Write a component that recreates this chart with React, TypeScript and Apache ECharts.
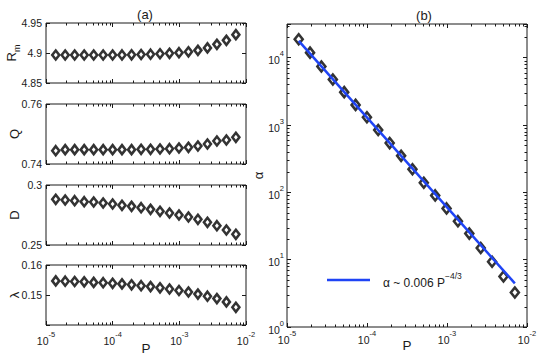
import React, { useEffect, useRef } from "react";
import * as echarts from "echarts";

// ---- data ----
const P = [1.40e-5, 1.94e-5, 2.69e-5, 3.74e-5, 5.19e-5, 7.20e-5, 9.98e-5, 1.38e-4, 1.92e-4, 2.67e-4,
  3.70e-4, 5.13e-4, 7.12e-4, 9.88e-4, 1.37e-3, 1.90e-3, 2.64e-3, 3.66e-3, 5.08e-3, 7.05e-3];
const Rm = [4.8967, 4.8967, 4.8967, 4.8967, 4.8967, 4.8967, 4.8967, 4.8968, 4.8970, 4.8975,
  4.8980, 4.8987, 4.8995, 4.9005, 4.9020, 4.9044, 4.9085, 4.9144, 4.9211, 4.9306];
const Q = [0.74444, 0.74478, 0.74478, 0.74478, 0.74478, 0.74478, 0.74478, 0.74478, 0.74478, 0.74489,
  0.74489, 0.745, 0.74511, 0.74533, 0.74556, 0.746, 0.74667, 0.74767, 0.748, 0.74889];
const D = [0.28806, 0.2875, 0.28694, 0.28611, 0.28583, 0.285, 0.28417, 0.28306, 0.28222, 0.28111,
  0.27972, 0.27806, 0.27667, 0.275, 0.27333, 0.27139, 0.26889, 0.26611, 0.2625, 0.25889];
const lambda = [0.1547, 0.1546, 0.1545, 0.1544, 0.1542, 0.1541, 0.1539, 0.1537, 0.1534, 0.1531,
  0.1528, 0.1524, 0.1520, 0.1515, 0.1510, 0.1503, 0.1496, 0.1488, 0.1477, 0.1459];
const alpha = [18750, 11880, 7410, 4740, 3075, 1990, 1303, 842, 539, 348,
  220, 139, 90, 57.7, 37.3, 24.4, 14.9, 9.33, 5.63, 3.25];
const fitP = [1.4e-5, 7.05e-3];
const fitAlpha = [17800, 4.44];
const fitName = "α ~ 0.006 P^-4/3";

const xMinorTicks = [2e-5, 3e-5, 4e-5, 5e-5, 6e-5, 7e-5, 8e-5, 9e-5,
  2e-4, 3e-4, 4e-4, 5e-4, 6e-4, 7e-4, 8e-4, 9e-4,
  2e-3, 3e-3, 4e-3, 5e-3, 6e-3, 7e-3, 8e-3, 9e-3];
const yMinorTicksAlpha = [2, 3, 4, 5, 6, 7, 8, 9, 20, 30, 40, 50, 60, 70, 80, 90,
  200, 300, 400, 500, 600, 700, 800, 900, 2000, 3000, 4000, 5000, 6000, 7000, 8000, 9000, 20000, 30000];

const leftPanels = [
  { name: "{r|R}{m|m}", values: Rm, min: 4.85, max: 4.95, interval: 0.05, hideMin: false },
  { name: "Q", values: Q, min: 0.74, max: 0.76, interval: 0.02, hideMin: false },
  { name: "D", values: D, min: 0.25, max: 0.3, interval: 0.05, hideMin: false },
  { name: "λ", values: lambda, min: 0.14, max: 0.16, interval: 0.01, hideMin: true },
];
const leftTops = [23, 104, 185, 265];

const FONT = "'Liberation Sans', Arial, Helvetica, sans-serif";
const TXT = "#1a1a1a";
const BLUE = "#1f44f5";

const supRich = {
  b: { fontSize: 10.5, fontFamily: FONT, color: TXT, lineHeight: 16, verticalAlign: "bottom" },
  s: { fontSize: 7.5, fontFamily: FONT, color: TXT, lineHeight: 8, verticalAlign: "top" },
};

function pow10Label(v: number) {
  const l = Math.log10(v);
  const e = Math.round(l);
  if (Math.abs(l - e) > 1e-6) return "";
  return `{b|10}{s|${e}}`;
}

function tickRender(params: any, api: any) {
  const cs = params.coordSys;
  const kind = api.value(2);
  const pt = api.coord([api.value(0), api.value(1)]);
  const L = 2.5;
  const st = { stroke: TXT, lineWidth: 1 };
  if (kind === 0) {
    const x = Math.round(pt[0]) + 0.5;
    return {
      type: "group",
      children: [
        { type: "line", shape: { x1: x, y1: cs.y + cs.height, x2: x, y2: cs.y + cs.height - L }, style: st },
        { type: "line", shape: { x1: x, y1: cs.y, x2: x, y2: cs.y + L }, style: st },
      ],
    };
  }
  const y = Math.round(pt[1]) + 0.5;
  return {
    type: "group",
    children: [
      { type: "line", shape: { x1: cs.x, y1: y, x2: cs.x + L, y2: y }, style: st },
      { type: "line", shape: { x1: cs.x + cs.width, y1: y, x2: cs.x + cs.width - L, y2: y }, style: st },
    ],
  };
}

function buildOption() {
  const grid: any[] = [];
  const xAxis: any[] = [];
  const yAxis: any[] = [];
  const series: any[] = [];

  const tickCommon = { show: true, inside: true, length: 4, lineStyle: { color: TXT, width: 1 } };

  const addPanel = (gi: number, g: any, yCfg: any, yName: any, xName: string | null, xLabelMargin: number, xNameGap: number) => {
    grid.push({ ...g, show: true, borderColor: TXT, borderWidth: 1, backgroundColor: "#fff", containLabel: false, outerBoundsMode: "none" });
    const xi = xAxis.length;
    xAxis.push({
      type: "log", logBase: 10, min: 1e-5, max: 1e-2, interval: 1, gridIndex: gi, position: "bottom",
      axisLine: { show: false }, axisTick: tickCommon, splitLine: { show: false }, minorTick: { show: false },
      axisLabel: xName ? { show: true, margin: xLabelMargin, formatter: pow10Label, rich: supRich } : { show: false },
      name: xName || "", nameLocation: "middle", nameGap: xNameGap, nameMoveOverlap: false,
      nameTextStyle: { fontFamily: FONT, fontSize: 13.5, color: TXT },
    });
    xAxis.push({
      type: "log", logBase: 10, min: 1e-5, max: 1e-2, interval: 1, gridIndex: gi, position: "top",
      axisLine: { show: false }, axisTick: tickCommon, splitLine: { show: false }, axisLabel: { show: false },
    });
    const yi = yAxis.length;
    yAxis.push({
      ...yCfg, gridIndex: gi, position: "left",
      axisLine: { show: false }, axisTick: tickCommon, splitLine: { show: false },
      name: yName.text, nameLocation: "middle", nameGap: yName.gap, nameRotate: 90, nameMoveOverlap: false,
      nameTextStyle: {
        fontFamily: FONT, fontSize: 13, color: TXT,
        rich: {
          r: { fontFamily: FONT, fontSize: 13, color: TXT, lineHeight: 16, verticalAlign: "top" },
          m: { fontFamily: FONT, fontSize: 9, color: TXT, lineHeight: 9, verticalAlign: "bottom" },
        },
      },
    });
    yAxis.push({
      ...yCfg, gridIndex: gi, position: "right",
      axisLine: { show: false }, axisTick: tickCommon, splitLine: { show: false }, axisLabel: { show: false },
    });
    return { xi, yi };
  };

  leftPanels.forEach((p, i) => {
    const { xi, yi } = addPanel(
      i,
      { left: 46, width: 200, top: leftTops[i], height: 60 },
      {
        type: "value", min: p.min, max: p.max, interval: p.interval,
        axisLabel: {
          show: true, margin: 4, fontFamily: FONT, fontSize: 10.5, color: TXT,
          formatter: (v: number) => (p.hideMin && Math.abs(v - p.min) < 1e-9 ? "" : String(Math.round(v * 1000) / 1000)),
        },
      },
      { text: p.name, gap: 25 },
      i === 3 ? "P" : null,
      5,
      16,
    );
    series.push({
      type: "custom", xAxisIndex: xi, yAxisIndex: yi, silent: true, z: 1,
      renderItem: tickRender, encode: { x: 0, y: 1 },
      data: xMinorTicks.map((v) => [v, p.min, 0]),
    });
    series.push({
      type: "scatter", xAxisIndex: xi, yAxisIndex: yi, z: 3,
      symbol: "diamond", symbolSize: [7, 9],
      itemStyle: { color: "#fff", borderColor: "#000", borderWidth: 2.6 },
      data: P.map((x, k) => [x, p.values[k]]),
    });
  });

  const { xi, yi } = addPanel(
    4,
    { left: 287, width: 240, top: 24, height: 303 },
    {
      type: "log", logBase: 10, min: 1, max: 31623, interval: 1,
      axisLabel: { show: true, margin: 3, formatter: pow10Label, rich: supRich },
    },
    { text: "α", gap: 22 },
    "P",
    2,
    11,
  );
  series.push({
    type: "custom", xAxisIndex: xi, yAxisIndex: yi, silent: true, z: 1,
    renderItem: tickRender, encode: { x: 0, y: 1 },
    data: [...xMinorTicks.map((v) => [v, 1, 0]), ...yMinorTicksAlpha.map((v) => [1e-5, v, 1])],
  });
  series.push({
    type: "scatter", xAxisIndex: xi, yAxisIndex: yi, z: 3,
    symbol: "diamond", symbolSize: [8, 10],
    itemStyle: { color: "#fff", borderColor: "#000", borderWidth: 2.6 },
    data: P.map((x, k) => [x, alpha[k]]),
  });
  series.push({
    type: "line", name: fitName, xAxisIndex: xi, yAxisIndex: yi, z: 4,
    symbol: "none", lineStyle: { color: BLUE, width: 2.5 }, itemStyle: { color: BLUE },
    data: fitP.map((x, k) => [x, fitAlpha[k]]),
  });

  return {
    animation: false,
    backgroundColor: "#fff",
    grid, xAxis, yAxis, series,
    legend: {
      data: [{ name: fitName, icon: "rect" }], left: 322, top: 266, itemWidth: 43, itemHeight: 2.5,
      selectedMode: false,
      formatter: () => "{a|α ~ 0.006 P}{s|−4/3}",
      textStyle: {
        padding: [0, 0, 0, 8],
        rich: {
          a: { fontFamily: FONT, fontSize: 12, color: TXT, lineHeight: 18, verticalAlign: "bottom" },
          s: { fontFamily: FONT, fontSize: 8.5, color: TXT, lineHeight: 9, verticalAlign: "top" },
        },
      },
    },
    graphic: [
      { type: "text", x: 145, y: 14, style: { text: "(a)", font: `13px ${FONT}`, fill: TXT, textAlign: "center", textVerticalAlign: "middle" } },
      { type: "text", x: 424, y: 15, style: { text: "(b)", font: `13px ${FONT}`, fill: TXT, textAlign: "center", textVerticalAlign: "middle" } },
    ],
  };
}

export default function App() {
  const ref = useRef<HTMLDivElement>(null);
  useEffect(() => {
    if (!ref.current) return;
    const chart = echarts.init(ref.current, null, { renderer: "svg" });
    chart.setOption(buildOption() as any);
    return () => chart.dispose();
  }, []);
  return <div ref={ref} style={{ position: "absolute", left: 0, top: 0, width: 540, height: 354 }} />;
}
